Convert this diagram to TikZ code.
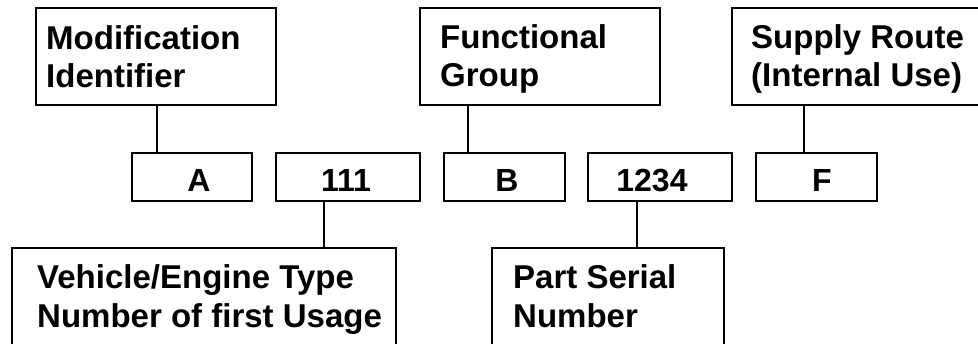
\documentclass[tikz,border=0pt]{standalone}
\usepackage{fontspec}
\setmainfont{Liberation Sans}
\begin{document}
\begin{tikzpicture}[x=1pt,y=-1pt,
  box/.style={draw=black,line width=1.8pt,inner sep=0pt,outer sep=0pt,anchor=north west},
  txt/.style={inner sep=0pt,anchor=base west,font=\fontsize{33}{39}\selectfont\bfseries},
  ctxt/.style={inner sep=0pt,anchor=base,font=\fontsize{32}{39}\selectfont\bfseries},
  conn/.style={draw=black,line width=1.8pt}]
\useasboundingbox (0,0) rectangle (978,343);
\clip (0,0) rectangle (978,343);
% top boxes
\node[box,minimum width=240pt,minimum height=97pt] (mod) at (36,8) {};
\node[box,minimum width=240pt,minimum height=97pt] (func) at (420,8) {};
\node[box,minimum width=260pt,minimum height=97pt] (sup) at (732,8) {};
% middle boxes
\node[box,minimum width=120pt,minimum height=48pt] (a) at (132,153) {};
\node[box,minimum width=144pt,minimum height=48pt] (n111) at (276,153) {};
\node[box,minimum width=121pt,minimum height=48pt] (b) at (444,153) {};
\node[box,minimum width=144pt,minimum height=48pt] (n1234) at (588,153) {};
\node[box,minimum width=121pt,minimum height=48pt] (f) at (756,153) {};
% bottom boxes
\node[box,minimum width=384pt,minimum height=130pt] (veh) at (12,248) {};
\node[box,minimum width=232pt,minimum height=130pt] (part) at (492,248) {};
% texts
\node[txt] (t1) at (46,49) {Modification};
\node[txt] (t2) at (46,87) {Identifier};
\node[txt] (t3) at (440,48) {Functional};
\node[txt] (t4) at (440,86) {Group};
\node[txt] (t5) at (751,48) {Supply Route};
\node[txt] (t6) at (751,86) {(Internal Use)};
\node[txt] (t7) at (37,288) {Vehicle/Engine Type};
\node[txt] (t8) at (37,327) {Number of first Usage};
\node[txt] (t9) at (513,288) {Part Serial};
\node[txt] (t10) at (513,327) {Number};
\node[ctxt] (ta) at (199,191) {A};
\node[ctxt] (t111) at (346,191) {111};
\node[ctxt] (tb) at (507,191) {B};
\node[ctxt] (t1234) at (652,191) {1234};
\node[ctxt] (tf) at (822,191) {F};
% connectors
\coordinate (c1) at ([xshift=121pt]mod.south west);
\draw[conn] (c1) -- (c1 |- a.north);
\coordinate (c2) at ([xshift=48pt]func.south west);
\draw[conn] (c2) -- (c2 |- b.north);
\coordinate (c3) at ([xshift=72pt]sup.south west);
\draw[conn] (c3) -- (c3 |- f.north);
\coordinate (c4) at ([xshift=48pt]n111.south west);
\draw[conn] (c4) -- (c4 |- veh.north);
\coordinate (c5) at ([xshift=49pt]n1234.south west);
\draw[conn] (c5) -- (c5 |- part.north);
\end{tikzpicture}
\end{document}
